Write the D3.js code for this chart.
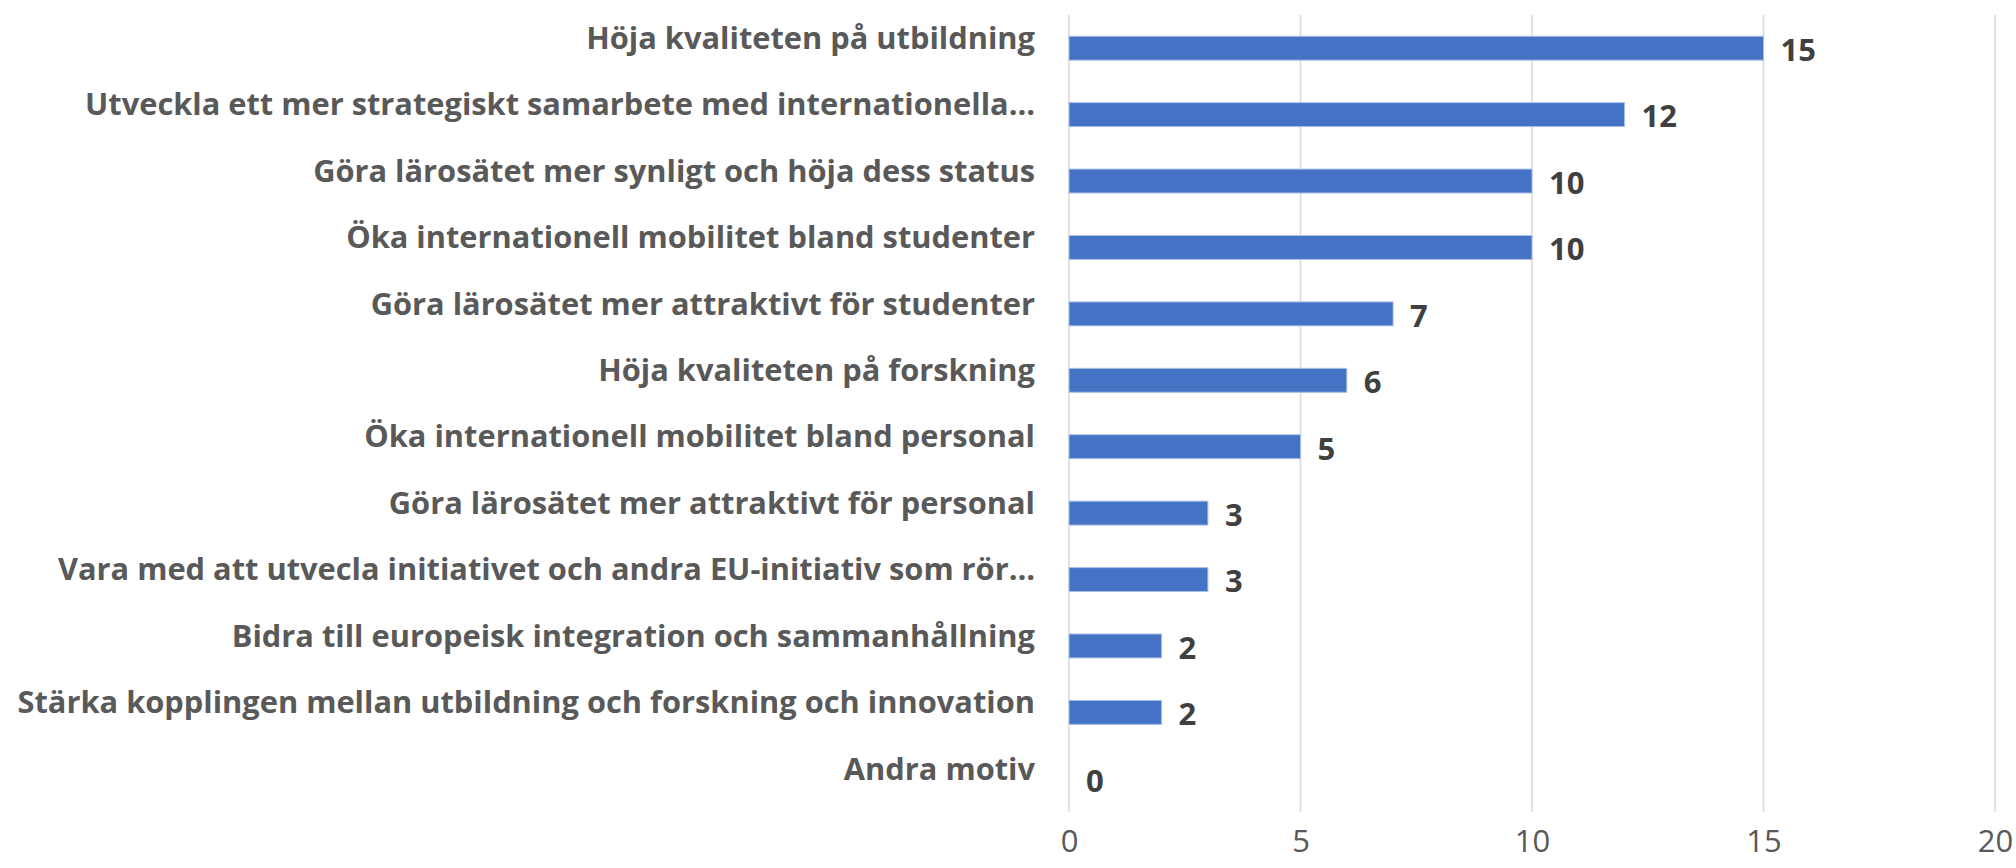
<!DOCTYPE html>
<html>
<head>
<meta charset="utf-8">
<script src="https://cdn.jsdelivr.net/npm/d3@7"></script>
<style>
  body { margin: 0; background: #fff; }
  svg { display: block; }
</style>
</head>
<body>
<svg class="chart"></svg>
<script>
var svgWidth = 2016,
    svgHeight = 868;

// data
var categories = [
  'Höja kvaliteten på utbildning',
  'Utveckla ett mer strategiskt samarbete med internationella…',
  'Göra lärosätet mer synligt och höja dess status',
  'Öka internationell mobilitet bland studenter',
  'Göra lärosätet mer attraktivt för studenter',
  'Höja kvaliteten på forskning',
  'Öka internationell mobilitet bland personal',
  'Göra lärosätet mer attraktivt för personal',
  'Vara med att utvecla initiativet och andra EU-initiativ som rör…',
  'Bidra till europeisk integration och sammanhållning',
  'Stärka kopplingen mellan utbildning och forskning och innovation',
  'Andra motiv'
];
var values = [15, 12, 10, 10, 7, 6, 5, 3, 3, 2, 2, 0];
var tickValues = [0, 5, 10, 15, 20];

var data = categories.map(function(c, i) { return {cat: c, value: values[i]}; });

var xScale = d3.scaleLinear().domain([0, 20]).range([1069, 1995]),
    yScale = d3.scaleBand().domain(categories).range([15, 812])
               .paddingInner(0.64).paddingOuter(0.32);

var svg = d3.select('.chart')
    .attr('width', svgWidth)
    .attr('height', svgHeight);

// vertical gridlines
svg.append('g').attr('class', 'grid')
  .selectAll('line')
  .data(tickValues)
  .enter().append('line')
    .attr('x1', function(d) { return xScale(d); })
    .attr('x2', function(d) { return xScale(d); })
    .attr('y1', 15)
    .attr('y2', 812)
    .attr('stroke', '#d9d9d9')
    .attr('stroke-width', 1.5);

// x axis tick labels
var xAxis = d3.axisBottom(xScale).tickValues(tickValues).tickSize(0).tickPadding(0);
var xg = svg.append('g')
    .attr('class', 'xaxis')
    .attr('transform', 'translate(0,830)')
    .call(xAxis);
xg.select('.domain').remove();
xg.selectAll('text')
    .attr('dy', '0.71em')
    .attr('fill', '#595959')
    .style('font-family', '"Open Sans", sans-serif')
    .style('font-size', '31px');

// category labels
svg.append('g').attr('class', 'ylabels')
  .selectAll('text')
  .data(data)
  .enter().append('text')
    .attr('x', 1035)
    .attr('y', function(d) { return yScale(d.cat) + yScale.bandwidth() / 2 - 10; })
    .attr('dy', '0.35em')
    .attr('text-anchor', 'end')
    .attr('fill', '#595959')
    .style('font-family', '"Open Sans", sans-serif')
    .style('font-weight', 'bold')
    .style('font-size', '30.8px')
    .text(function(d) { return d.cat; });

// bars
svg.append('g').attr('class', 'bars')
  .selectAll('rect')
  .data(data)
  .enter().append('rect')
    .attr('x', xScale(0))
    .attr('y', function(d) { return yScale(d.cat); })
    .attr('width', function(d) { return xScale(d.value) - xScale(0); })
    .attr('height', yScale.bandwidth())
    .attr('fill', '#4472c4')
    .attr('stroke', function(d) { return d.value > 0 ? '#a9bfe6' : 'none'; })
    .attr('stroke-width', 1);

// value labels
svg.append('g').attr('class', 'values')
  .selectAll('text')
  .data(data)
  .enter().append('text')
    .attr('x', function(d) { return xScale(d.value) + 17; })
    .attr('y', function(d) { return yScale(d.cat) + yScale.bandwidth() / 2 + 2; })
    .attr('dy', '0.35em')
    .attr('fill', '#404040')
    .style('font-family', '"Open Sans", sans-serif')
    .style('font-weight', 'bold')
    .style('font-size', '31px')
    .text(function(d) { return d.value; });
</script>
</body>
</html>
